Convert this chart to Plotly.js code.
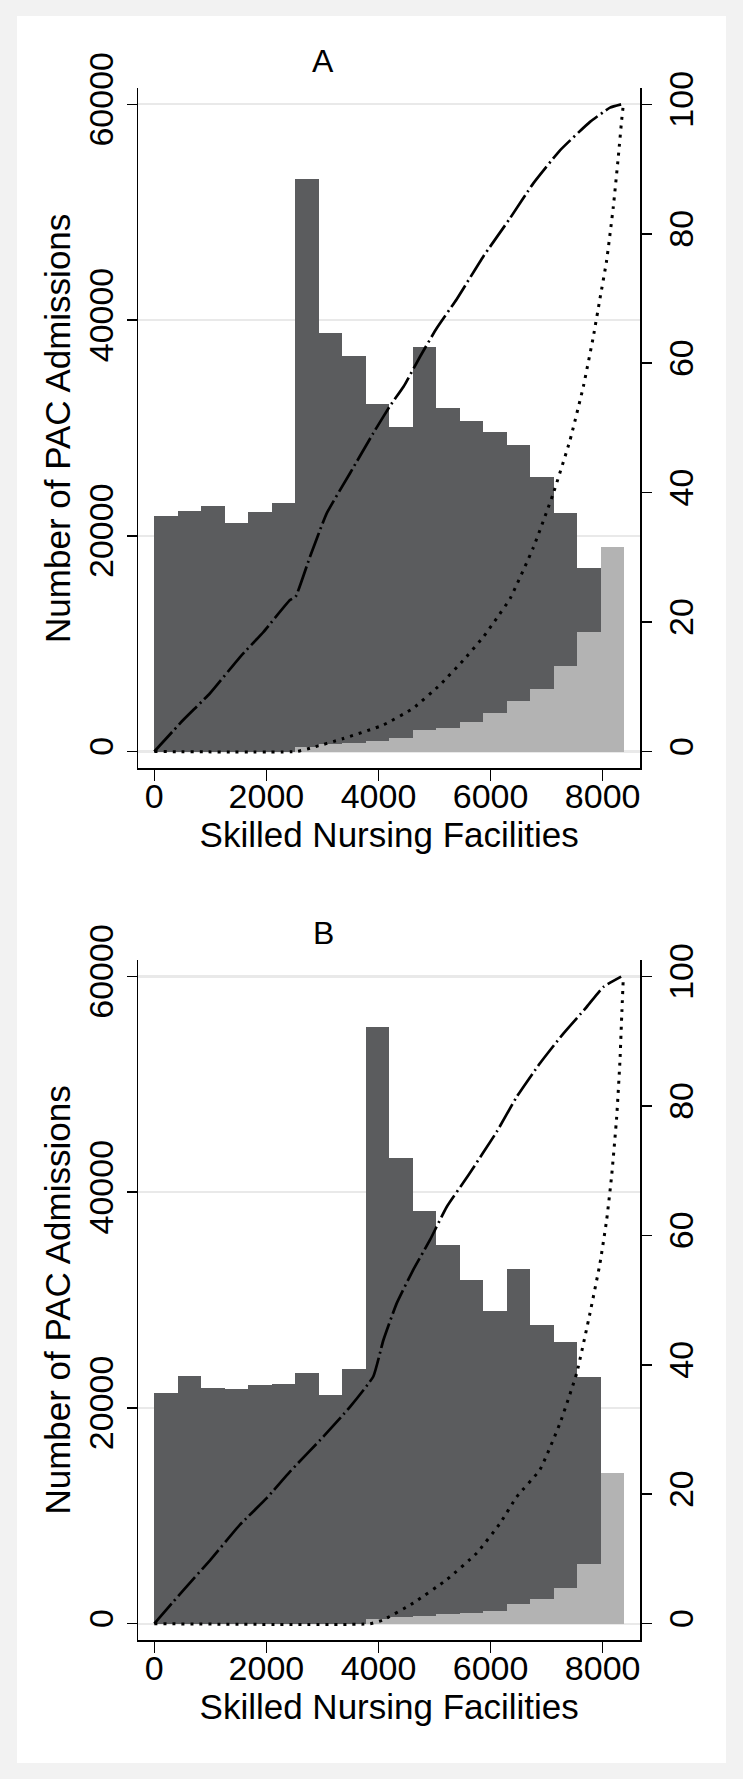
<!DOCTYPE html>
<html>
<head>
<meta charset="utf-8">
<script src="https://cdn.plot.ly/plotly-3.0.1.min.js"></script>
<style>
  html, body { margin: 0; padding: 0; background: #f2f2f2; }
  #chart { width: 743px; height: 1779px; }
</style>
</head>
<body>
<div id="chart"></div>
<script>
// ---- Data ----
const binCenters = [210, 629, 1048, 1468, 1887, 2306, 2726, 3145, 3564, 3984,
                    4403, 4822, 5242, 5661, 6080, 6500, 6919, 7338, 7758, 8177];

// Panel A: bars
const darkA  = [21860, 22330, 22760, 21160, 22210, 23010, 53110, 38780, 36640, 32220,
                30120, 37510, 31850, 30670, 29650, 28390, 25420, 22140, 17040, null];
const lightA = [0, 0, 0, 0, 0, 0, 445, 695, 816, 1001,
                1224, 1993, 2210, 2735, 3542, 4682, 5795, 7958, 11110, 18960];

// Panel A: cumulative curves (percent, right axis)
const dashA_x = [0, 520, 994, 1529, 1950, 2421, 2520, 2778, 3076, 3492, 3908, 4205, 4449, 4741,
                 5039, 5396, 5871, 6347, 6763, 7240, 7775, 8132, 8330];
const dashA_y = [0, 4.9, 9.0, 14.6, 18.5, 23.4, 23.9, 30.1, 36.8, 43.0, 49.2, 53.4, 56.4, 61.0,
                 65.4, 69.9, 76.5, 82.4, 87.8, 92.9, 97.3, 99.5, 100];
const dotA_x = [0, 2541, 2778, 3373, 4087, 4622, 5098, 5514, 5871, 6110, 6347, 6763, 7120,
                7418, 7656, 7834, 7953, 8072, 8191, 8280, 8340, 8370];
const dotA_y = [0, 0, 0.5, 2.0, 4.1, 6.7, 10.3, 14.1, 17.7, 20.6, 23.6, 31.5, 39.9,
                48.1, 56.4, 64.1, 70.0, 75.9, 84.2, 91.9, 97.6, 100];

// Panel B: bars
const darkB  = [21390, 23000, 21830, 21760, 22140, 22200, 23220, 21180, 23620, 55350,
                43150, 38240, 35140, 31840, 29020, 32890, 27700, 26090, 22870, null];
const lightB = [0, 0, 0, 0, 0, 0, 0, 0, 0, 436,
                590, 714, 869, 1020, 1178, 1827, 2290, 3310, 5535, 13970];

// Panel B: cumulative curves
const dashB_x = [0, 520, 994, 1529, 2005, 2421, 3016, 3492, 3908, 4087, 4325, 4622, 4919,
                 5217, 5604, 6109, 6466, 6882, 7299, 7715, 8013, 8330];
const dashB_y = [0, 5.2, 9.8, 15.3, 19.4, 23.5, 28.9, 33.5, 38.2, 43.8, 49.5, 54.7, 59.3,
                 64.4, 69.3, 76.0, 81.4, 86.6, 91.2, 95.3, 98.4, 100];
const dotB_x = [0, 3850, 4087, 4622, 5217, 5752, 6169, 6466, 6882, 7240, 7537, 7775, 7953,
                8072, 8162, 8251, 8310, 8340, 8370];
const dotB_y = [0, 0, 0.6, 3.2, 6.8, 10.9, 15.5, 19.6, 23.8, 31.0, 38.7, 48.0, 55.7,
                62.4, 69.3, 78.3, 87.1, 93.8, 100];

// Axis tick labels
const xTicks = [0, 2000, 4000, 6000, 8000];
const yTicks = [0, 20000, 40000, 60000];
const y2Ticks = [0, 20, 40, 60, 80, 100];
const panelTitles = ["A", "B"];
const xTitle = "Skilled Nursing Facilities";
const yTitle = "Number of PAC Admissions";

// ---- Styles ----
const W = 743, H = 1779;
const FONT = "Liberation Sans, Arial, Helvetica, sans-serif";
const DARK = "#5b5c5e", LIGHT = "#b3b3b3";
const BINW = 419.4;

function px2x(p) { return p / W; }
function px2y(p) { return 1 - p / H; }

function barTrace(y, color, xa, ya) {
  return { type: "bar", x: binCenters, y: y, width: BINW, xaxis: xa, yaxis: ya,
           marker: { color: color, line: { width: 0 } }, hoverinfo: "skip", showlegend: false };
}
function lineTrace(x, y, dash, width, xa, ya) {
  return { type: "scatter", mode: "lines", x: x, y: y, xaxis: xa, yaxis: ya,
           line: { color: "#000", width: width, dash: dash, shape: "spline", smoothing: 0.4 },
           hoverinfo: "skip", showlegend: false };
}
const DASHDOT = "26px,4px,2px,4px";
const DOT = "3px,6px";

const traces = [
  barTrace(darkA, DARK, "x", "y"),
  barTrace(lightA, LIGHT, "x", "y"),
  lineTrace(dashA_x, dashA_y, DASHDOT, 2.7, "x", "y2"),
  lineTrace(dotA_x, dotA_y, DOT, 3, "x", "y2"),
  barTrace(darkB, DARK, "x2", "y3"),
  barTrace(lightB, LIGHT, "x2", "y3"),
  lineTrace(dashB_x, dashB_y, DASHDOT, 2.7, "x2", "y4"),
  lineTrace(dotB_x, dotB_y, DOT, 3, "x2", "y4"),
];

// pixel geometry of each panel: [top, bottom] of plot box
const panels = [
  { top: 88.3, bottom: 768.3, yr: [-1558, 61492], titleY: 61 },
  { top: 960.0, bottom: 1640.0, yr: [-1511, 61537], titleY: 932.5 },
];
const xDomain = [px2x(138.4), px2x(640)];
const xRange = [-284, 8667];

function xAxis(anchor) {
  return {
    domain: xDomain, range: xRange, anchor: anchor,
    tickmode: "array", tickvals: xTicks, ticktext: xTicks.map(String),
    ticks: "outside", ticklen: 11, tickwidth: 1.6, tickcolor: "#000",
    ticklabelstandoff: -14,
    showline: true, linecolor: "#000", linewidth: 1.8,
    showgrid: false, zeroline: false,
    tickfont: { family: FONT, size: 34, color: "#000" },
    title: { text: xTitle, font: { family: FONT, size: 35, color: "#000" }, standoff: 4 },
    fixedrange: true,
  };
}
function yAxis(p, anchor) {
  return {
    domain: [px2y(p.bottom), px2y(p.top)], range: p.yr, anchor: anchor,
    tickmode: "array", tickvals: yTicks, ticktext: yTicks.map(String), tickangle: -90,
    ticks: "outside", ticklen: 10, tickwidth: 1.6, tickcolor: "#000",
    showline: true, linecolor: "#000", linewidth: 1.8,
    showgrid: true, gridcolor: "#e9e9e9", gridwidth: 2.2, zeroline: false,
    tickfont: { family: FONT, size: 34, color: "#000" },
    title: { text: yTitle, font: { family: FONT, size: 35, color: "#000" }, standoff: 1 },
    fixedrange: true,
  };
}
function yAxisRight(p, overlay, anchor) {
  return {
    overlaying: overlay, side: "right", anchor: anchor,
    range: [p.yr[0] / 600, p.yr[1] / 600],
    tickmode: "array", tickvals: y2Ticks, ticktext: y2Ticks.map(String), tickangle: -90,
    ticks: "outside", ticklen: 10, tickwidth: 1.6, tickcolor: "#000",
    showline: true, linecolor: "#000", linewidth: 1.8,
    showgrid: false, zeroline: false,
    tickfont: { family: FONT, size: 34, color: "#000" },
    fixedrange: true,
  };
}

const layout = {
  width: W, height: H,
  margin: { l: 0, r: 0, t: 0, b: 0, pad: 0 },
  paper_bgcolor: "#f2f2f2", plot_bgcolor: "rgba(0,0,0,0)",
  barmode: "overlay", bargap: 0,
  showlegend: false,
  xaxis: xAxis("y"),
  yaxis: yAxis(panels[0], "x"),
  yaxis2: yAxisRight(panels[0], "y", "x"),
  xaxis2: xAxis("y3"),
  yaxis3: yAxis(panels[1], "x2"),
  yaxis4: yAxisRight(panels[1], "y3", "x2"),
  shapes: [
    { type: "rect", xref: "paper", yref: "paper", layer: "below",
      x0: px2x(17), x1: px2x(726), y0: px2y(1763), y1: px2y(16),
      fillcolor: "#ffffff", line: { width: 0 } },
  ],
  annotations: panels.map((p, i) => ({
    text: panelTitles[i], xref: "paper", yref: "paper",
    x: px2x(323.3), y: px2y(p.titleY), xanchor: "center", yanchor: "middle",
    showarrow: false, font: { family: FONT, size: 32, color: "#000" },
  })),
};

Plotly.newPlot("chart", traces, layout, { displayModeBar: false, staticPlot: true });
</script>
</body>
</html>
